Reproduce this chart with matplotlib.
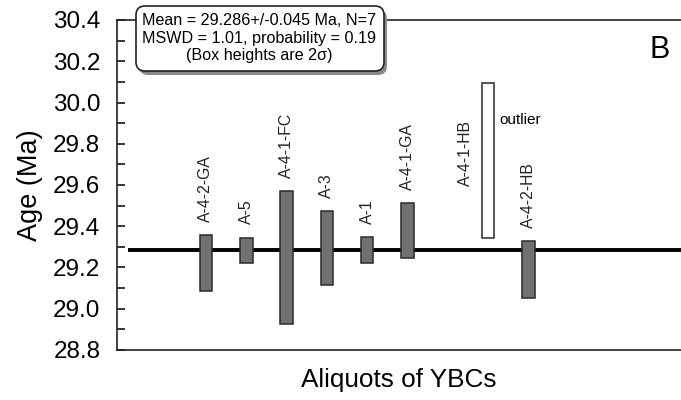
import matplotlib
matplotlib.use("Agg")
import matplotlib.pyplot as plt
from matplotlib.patches import FancyBboxPatch
from matplotlib.transforms import IdentityTransform
from matplotlib.ticker import MultipleLocator, FormatStrFormatter

plt.rcParams['font.family'] = ['Liberation Sans', 'DejaVu Sans']

# aliquot data (Ma), box heights are 2 sigma
aliquots = ['A-4-2-GA', 'A-5', 'A-4-1-FC', 'A-3', 'A-1', 'A-4-1-GA', 'A-4-1-HB', 'A-4-2-HB']
slots = [1, 2, 3, 4, 5, 6, 8, 9]
ages = [29.222, 29.284, 29.249, 29.295, 29.283, 29.380, 29.720, 29.190]
two_sigma = [0.135, 0.061, 0.323, 0.180, 0.063, 0.132, 0.375, 0.139]
is_outlier = [False, False, False, False, False, False, True, False]
mean_age = 29.286

fig = plt.figure(figsize=(6.81, 4.00), dpi=100)
ax = fig.add_axes([117 / 681, 50 / 400, 564 / 681, 330 / 400])

bar_w = 0.31
for x, a, s, out, name in zip(slots, ages, two_sigma, is_outlier, aliquots):
    face = 'white' if out else '#717171'
    ax.bar(x, 2 * s, bottom=a - s, width=bar_w, color=face,
           edgecolor='#2a2a2a', linewidth=1.1, zorder=3)
    if out:
        ax.annotate(name, (x, a), xytext=(-16.5, 5), textcoords='offset points',
                    rotation=90, ha='center', va='center', fontsize=11.3, color='#222222')
    else:
        ax.annotate(name, (x, a + s), xytext=(0, 9.5), textcoords='offset points',
                    rotation=90, ha='center', va='bottom', fontsize=11.3, color='#222222')

ax.annotate('outlier', (slots[6], ages[6] + two_sigma[6]), xytext=(8, -27),
            textcoords='offset points', ha='left', va='center', fontsize=11)

ax.hlines(mean_age, -0.935, 12.8, color='black', linewidth=2.8, zorder=2)

ax.set_xlim(-1.208, 12.79)
ax.set_ylim(28.8, 30.4)
ax.set_xticks([])
ax.yaxis.set_major_locator(MultipleLocator(0.2))
ax.yaxis.set_minor_locator(MultipleLocator(0.1))
ax.yaxis.set_major_formatter(FormatStrFormatter('%.1f'))
ax.tick_params(axis='y', which='both', direction='in', length=6, width=1.1,
               labelsize=17.5, pad=12)
ax.spines['right'].set_visible(False)
for sp in ['left', 'top', 'bottom']:
    ax.spines[sp].set_linewidth(1.2)
    ax.spines[sp].set_color('#222222')

ax.set_ylabel('Age (Ma)', fontsize=19.5, labelpad=7)
ax.set_xlabel('Aliquots of YBCs', fontsize=18.8, labelpad=13)

fig.text(660 / 681, 1 - 50 / 400, 'B', fontsize=22, ha='center', va='center')

# stats box with shadow, drawn in pixel coords
shadow = FancyBboxPatch((139, 325), 248, 65, boxstyle='round,pad=0,rounding_size=9',
                        transform=IdentityTransform(), facecolor='#8a8a8a',
                        edgecolor='none', zorder=5)
box = FancyBboxPatch((136, 329), 248, 65, boxstyle='round,pad=0,rounding_size=9',
                     transform=IdentityTransform(), facecolor='white',
                     edgecolor='#222222', linewidth=1.2, zorder=6)
fig.patches.extend([shadow, box])
fig.text(259 / 681, 1 - 38 / 400,
         'Mean = 29.286+/-0.045 Ma, N=7\nMSWD = 1.01, probability = 0.19\n(Box heights are 2σ)',
         ha='center', va='center', fontsize=11.6, linespacing=1.18, zorder=7)

fig.savefig('out.png', dpi=100)
